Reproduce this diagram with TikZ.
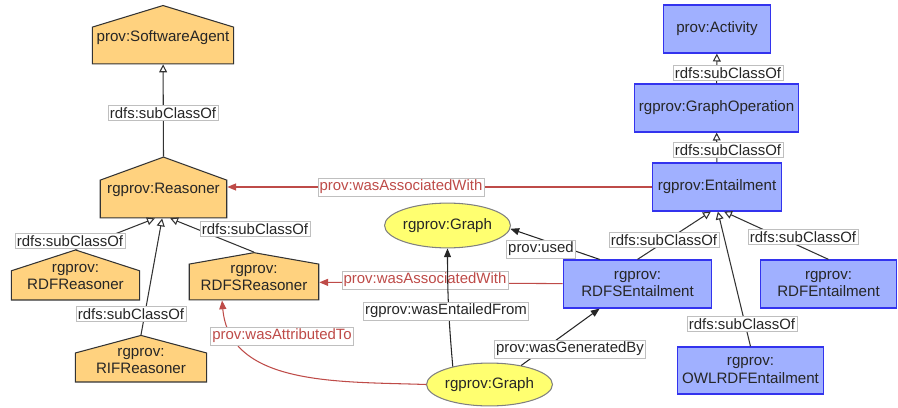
\documentclass[tikz,border=0pt]{standalone}
\usepackage{fontspec}
\setmainfont{Liberation Sans}
\usetikzlibrary{shapes.symbols,shapes.geometric,arrows.meta}

\definecolor{agentfill}{RGB}{255,210,127}
\definecolor{actfill}{RGB}{160,176,255}
\definecolor{actline}{RGB}{51,51,238}
\definecolor{entfill}{RGB}{255,255,112}
\definecolor{relred}{RGB}{190,75,72}

\newcommand{\nodefont}{\fontsize{8.6}{9.8}\selectfont}
\newcommand{\lblfont}{\fontsize{8.5}{9}\selectfont}

\tikzset{
  agent/.style={signal, signal to=north, draw=black!80, fill=agentfill, line width=0.6pt,
    inner sep=0pt, align=center, font=\nodefont, text=black!85},
  activity/.style={rectangle, draw=actline, fill=actfill, line width=0.8pt,
    inner sep=0pt, align=center, font=\nodefont, text=black!85},
  entity/.style={ellipse, draw=gray, fill=entfill, line width=0.6pt,
    inner sep=0pt, font=\nodefont, text=black!85},
  lbl/.style={fill=white, draw=black!25, line width=0.4pt, inner xsep=1pt, inner ysep=1.2pt,
    font=\lblfont, text=black!85},
  provlbl/.style={lbl, text=relred},
  sub/.style={draw=black!80, line width=0.6pt, -{Triangle[open,length=4.5pt,width=4.5pt]}},
  rel/.style={draw=black!85, line width=0.6pt, -{Triangle[length=5pt,width=4pt]}},
  prov/.style={draw=relred, line width=0.6pt, -{Triangle[length=5pt,width=4pt]}},
}

\begin{document}
\begin{tikzpicture}[x=0.02cm, y=-0.02cm]
\useasboundingbox (0,0) rectangle (898,408);

% Agents (house shapes)
\node[agent, signal pointer angle=146, text width=80.5pt, text height=7.9pt, text depth=13pt]
  (sa) at (163,45.5) {prov:SoftwareAgent};
\node[agent, signal pointer angle=140, text width=72pt, text height=7.5pt, text depth=14pt]
  (reas) at (163.5,199) {rgprov:Reasoner};
\node[agent, signal pointer angle=144, text width=73.1pt, text height=0.7pt, text depth=15.9pt]
  (rdfr) at (75.5,285.4) {rgprov:\\RDFReasoner};
\node[agent, signal pointer angle=160, text width=73.7pt, text height=5.3pt, text depth=15.1pt]
  (rdfsr) at (254,282) {rgprov:\\RDFSReasoner};
\node[agent, signal pointer angle=150, text width=74.8pt, text height=2pt, text depth=14.5pt]
  (rifr) at (141,367.5) {rgprov:\\RIFReasoner};

% Activities
\node[activity, minimum width=61.2pt, minimum height=27.2pt] (act) at (717,29) {prov:Activity};
\node[activity, minimum width=93.5pt, minimum height=27.2pt] (gop) at (716.5,108) {rgprov:GraphOperation};
\node[activity, minimum width=73.7pt, minimum height=27.2pt] (ent) at (717,187) {rgprov:Entailment};
\node[activity, minimum width=84.5pt, minimum height=27.2pt] (rdfse) at (637.5,284) {rgprov:\\RDFSEntailment};
\node[activity, minimum width=77.7pt, minimum height=27.2pt] (rdfe) at (828.5,284) {rgprov:\\RDFEntailment};
\node[activity, minimum width=83.3pt, minimum height=26.6pt] (owle) at (750.5,370.5) {rgprov:\\OWLRDFEntailment};

% Entities
\node[entity, minimum width=56.1pt, minimum height=25.5pt] (g1) at (447.5,225.5) {rgprov:Graph};
\node[entity, minimum width=53.9pt, minimum height=24.4pt] (g2) at (489.5,384.5) {rgprov:Graph};

% Subclass links, agents
\draw[sub] (reas.90) -- (sa) node[lbl] at (163,113) {rdfs:subClassOf};
\draw[sub] (rdfr.90) -- (reas.-114) node[lbl] at (70,241) {rdfs:subClassOf};
\draw[sub] (rifr.90) -- (reas.-94) node[lbl] at (131,314) {rdfs:subClassOf};
\draw[sub] (rdfsr.90) -- (reas.-71) node[lbl] at (255,229) {rdfs:subClassOf};

% Subclass links, activities
\draw[sub] (gop) -- (act) node[lbl] at (728,73) {rdfs:subClassOf};
\draw[sub] (ent) -- (gop) node[lbl] at (728,150) {rdfs:subClassOf};
\draw[sub] (rdfse.north) -- (ent.-104) node[lbl] at (664,240) {rdfs:subClassOf};
\draw[sub] (owle.north) -- (ent.-88) node[lbl] at (742,324) {rdfs:subClassOf};
\draw[sub] (rdfe.north) -- (ent.-74) node[lbl] at (803,237) {rdfs:subClassOf};

% Provenance relations
\draw[prov] (ent) -- (ent -| reas.0) node[provlbl] at (401,187) {prov:wasAssociatedWith};
\draw[prov] (rdfse) -- (rdfsr) node[provlbl] at (425,280) {prov:wasAssociatedWith};
\draw[prov] (g2.west) to[out=178, in=-85] (rdfsr.-150.6) node[provlbl] at (282,336) {prov:wasAttributedTo};
\draw[rel] (rdfse.147) -- (g1.-3) node[lbl] at (541,249) {prov:used};
\draw[rel] (g2.154) to[out=95, in=-90] (g1.south) node[lbl] at (446,311) {rgprov:wasEntailedFrom};
\draw[rel] (g2.31) -- (rdfse.-147) node[lbl] at (570,349) {prov:wasGeneratedBy};

\end{tikzpicture}
\end{document}
